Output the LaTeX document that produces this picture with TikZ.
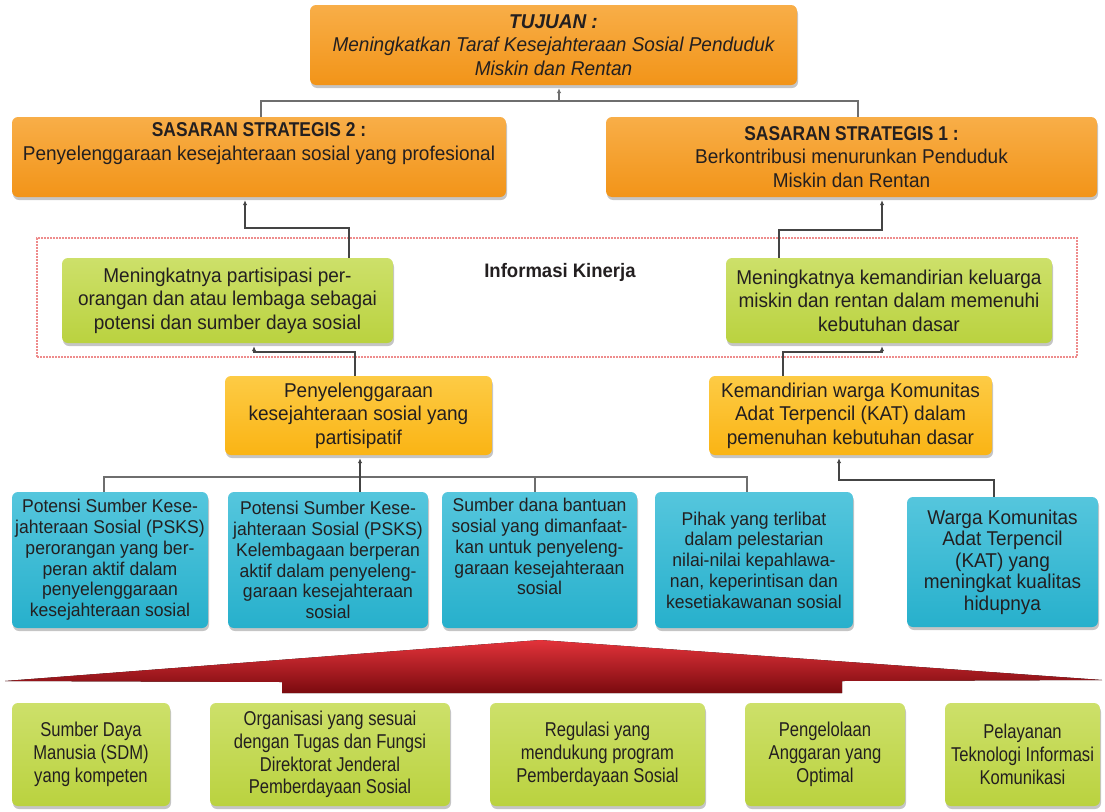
\documentclass[tikz,border=0pt]{standalone}
\usepackage{fontspec}
\setmainfont{Liberation Sans}[FakeStretch=0.95]
\newfontfamily\headfont{Liberation Sans}[FakeStretch=0.87]
\newfontfamily\narrowfont{Liberation Sans}[FakeStretch=0.83]
\usetikzlibrary{shadows,arrows.meta}

\definecolor{txt}{HTML}{231F20}
\definecolor{org}{HTML}{F29418}
\definecolor{orgT}{HTML}{F8AE48}
\definecolor{yel}{HTML}{FAB414}
\definecolor{yelT}{HTML}{FDCB45}
\definecolor{grn}{HTML}{BAD23F}
\definecolor{grnT}{HTML}{CDE06A}
\definecolor{blu}{HTML}{27B0CC}
\definecolor{bluT}{HTML}{55C6DD}
\definecolor{dashred}{HTML}{EE8C8C}
\definecolor{lineD}{HTML}{444444}
\definecolor{lineL}{HTML}{6E6E6E}
\definecolor{redT}{HTML}{E3333A}
\definecolor{redM}{HTML}{D21F28}
\definecolor{redB}{HTML}{7A0A0F}

\begin{document}
\begin{tikzpicture}[x=1pt,y=-1pt,
  box/.style={rounded corners=6pt, align=center, inner sep=2pt, text=txt,
    drop shadow={shadow xshift=1pt, shadow yshift=-3pt, opacity=0.45},
    font=\fontsize{20}{23.5}\selectfont},
  orangebox/.style={box, top color=orgT, bottom color=org},
  yellowbox/.style={box, top color=yelT, bottom color=yel},
  greenbox/.style={box, top color=grnT, bottom color=grn},
  bluebox/.style={box, top color=bluT, bottom color=blu,
    font=\fontsize{18.5}{20.8}\selectfont},
  basebox/.style={box, top color=grnT, bottom color=grn,
    font=\narrowfont\fontsize{20}{22.7}\selectfont},
  conn/.style={draw=lineD, line width=1.8pt},
  thinconn/.style={draw=lineL, line width=1.3pt},
  tip/.style={-{Latex[length=5pt,width=4.5pt]}, shorten >=3pt},
]
\useasboundingbox (0,0) rectangle (1105,811);
\fill[white] (0,0) rectangle (1105,811);

% performance information frame
\node[draw=dashred, dash pattern=on 1.8pt off 1.2pt, line width=1.1pt,
  minimum width=1040pt, minimum height=119pt, inner sep=0pt] (frame) at (557,297.5) {};
\node[font=\bfseries\fontsize{19.5}{22}\selectfont, text=txt] (info) at (560,272) {Informasi Kinerja};

% goal and strategic targets
\node[orangebox, minimum width=487pt, minimum height=80pt] (tuj) at (553.5,45)
  {{\bfseries\itshape TUJUAN :}\\\itshape Meningkatkan Taraf Kesejahteraan Sosial Penduduk\\\itshape Miskin dan Rentan};
\node[orangebox, minimum width=494pt, minimum height=80pt] (ss2) at (259,157)
  {{\headfont\bfseries SASARAN STRATEGIS 2 :}\\Penyelenggaraan kesejahteraan sosial yang profesional\\\strut};
\node[orangebox, minimum width=491pt, minimum height=80pt] (ss1) at (851.5,157)
  {{\headfont\bfseries SASARAN STRATEGIS 1 :}\\Berkontribusi menurunkan Penduduk\\Miskin dan Rentan};

% outcomes
\node[greenbox, minimum width=331pt, minimum height=85pt] (g1) at (227.5,300.5)
  {Meningkatnya partisipasi per-\\orangan dan atau lembaga sebagai\\potensi dan sumber daya sosial};
\node[greenbox, minimum width=326pt, minimum height=85pt] (g2) at (889,300.5)
  {Meningkatnya kemandirian keluarga\\miskin dan rentan dalam memenuhi\\kebutuhan dasar};

% programme results
\node[yellowbox, minimum width=267pt, minimum height=79pt] (y1) at (358.5,415.5)
  {Penyelenggaraan\\kesejahteraan sosial yang\\partisipatif};
\node[yellowbox, minimum width=283pt, minimum height=79pt] (y2) at (850.5,415.5)
  {Kemandirian warga Komunitas\\Adat Terpencil (KAT) dalam\\pemenuhan kebutuhan dasar};

% indicators
\node[bluebox, minimum width=196pt, minimum height=136pt] (b1) at (110,560)
  {Potensi Sumber Kese-\\jahteraan Sosial (PSKS)\\perorangan yang ber-\\peran aktif dalam\\penyelenggaraan\\kesejahteraan sosial};
\node[bluebox, minimum width=200pt, minimum height=136pt] (b2) at (328,560)
  {Potensi Sumber Kese-\\jahteraan Sosial (PSKS)\\Kelembagaan berperan\\aktif dalam penyeleng-\\garaan kesejahteraan\\sosial};
\node[bluebox, minimum width=195pt, minimum height=136pt] (b3) at (539.5,560)
  {Sumber dana bantuan\\sosial yang dimanfaat-\\kan untuk penyeleng-\\garaan kesejahteraan\\sosial\\[6pt]};
\node[bluebox, minimum width=198pt, minimum height=136pt] (b4) at (754,560)
  {Pihak yang terlibat\\dalam pelestarian\\nilai-nilai kepahlawa-\\nan, keperintisan dan\\kesetiakawanan sosial};
\node[bluebox, minimum width=191pt, minimum height=130pt,
  font=\fontsize{20}{21.5}\selectfont] (b5) at (1002.5,562)
  {Warga Komunitas\\Adat Terpencil\\(KAT) yang\\meningkat kualitas\\hidupnya};

% supporting arrow
\fill[top color=redT, middle color=redM, bottom color=redB]
  (5,681) -- (540,640) -- (1102,680) -- (842,681) -- (842,693)
  -- (282,693) -- (282,682) -- cycle;

% enablers
\node[basebox, minimum width=158pt, minimum height=103pt] (k1) at (91,754.5)
  {Sumber Daya\\Manusia (SDM)\\yang kompeten};
\node[basebox, minimum width=240pt, minimum height=103pt] (k2) at (330,754.5)
  {Organisasi yang sesuai\\dengan Tugas dan Fungsi\\Direktorat Jenderal\\Pemberdayaan Sosial};
\node[basebox, minimum width=215pt, minimum height=103pt] (k3) at (597.5,754.5)
  {Regulasi yang\\mendukung program\\Pemberdayaan Sosial};
\node[basebox, minimum width=160pt, minimum height=103pt] (k4) at (825,754.5)
  {Pengelolaan\\Anggaran yang\\Optimal};
\node[basebox, minimum width=155pt, minimum height=103pt] (k5) at (1022.5,754.5)
  {Pelayanan\\Teknologi Informasi\\Komunikasi};

% connectors: targets to goal
\coordinate (tj) at (559,101);
\draw[thinconn] ([xshift=2pt]ss2.north) |- (tj) -| ([xshift=6.5pt]ss1.north);
\draw[thinconn, tip] (tj) -- (tj |- tuj.south);

% outcomes to targets
\coordinate (c1) at (245,228);
\draw[conn, tip] ([xshift=121.5pt]g1.north) |- (c1) -- (c1 |- ss2.south);
\coordinate (c2) at (882,230);
\draw[conn, tip] ([xshift=-110pt]g2.north) |- (c2) -- (c2 |- ss1.south);

% programme results to outcomes
\coordinate (c3) at (254,352);
\draw[conn, tip] ([xshift=-3.5pt]y1.north) |- (c3) -- (c3 |- g1.south);
\coordinate (c4) at (882,352);
\draw[conn, tip] ([xshift=-67.5pt]y2.north) |- (c4) -- (c4 |- g2.south);

% indicators to programme results
\coordinate (c5) at (360,477);
\coordinate (b1t) at ([xshift=-6pt]b1.north);
\coordinate (b3t) at ([xshift=-4.5pt]b3.north);
\coordinate (b4t) at ([xshift=-7pt]b4.north);
\draw[thinconn] (b1t) |- (b4t |- c5) -- (b4t);
\draw[thinconn] (b3t) -- (b3t |- c5);
\draw[conn, tip] (b2.north -| c5) -- (c5 |- y1.south);
\coordinate (c6) at (839,480);
\draw[conn, tip] ([xshift=-8.5pt]b5.north) |- (c6) -- (c6 |- y2.south);
\end{tikzpicture}
\end{document}
